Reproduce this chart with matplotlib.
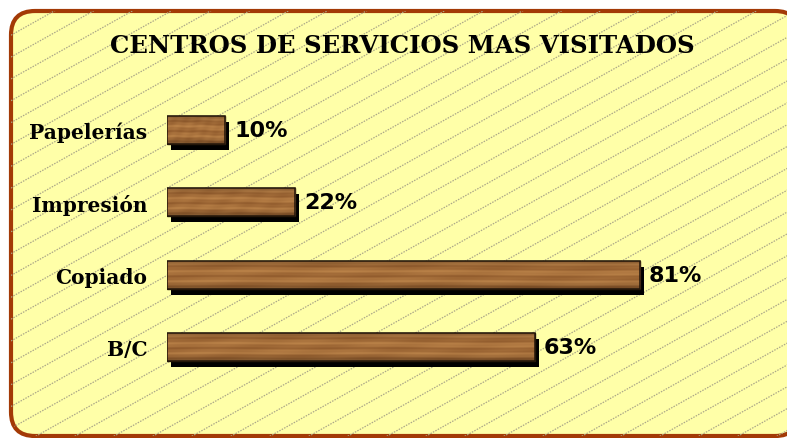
import numpy as np
import matplotlib
matplotlib.use('Agg')
import matplotlib.pyplot as plt
from matplotlib.patches import FancyBboxPatch, Rectangle
from matplotlib.transforms import ScaledTranslation

# data (bottom to top)
categories = ['B/C', 'Copiado', 'Impresión', 'Papelerías']
values = [63, 81, 22, 10]
title = 'CENTROS DE SERVICIOS MAS VISITADOS'

W, H = 787, 439
fig = plt.figure(figsize=(W / 100, H / 100), dpi=100)
fig.patch.set_facecolor('white')

# background panel in pixel coords
bg = fig.add_axes([0, 0, 1, 1])
bg.set_xlim(0, W)
bg.set_ylim(H, 0)
bg.axis('off')
frame = FancyBboxPatch((11, 12), 788, 425, boxstyle='round,pad=0,rounding_size=24',
                       facecolor='#ffffa8', edgecolor='#a33a06', linewidth=3.0, zorder=1)
bg.add_patch(frame)
# diagonal lines of the panel
slope = 0.56
for x0 in np.arange(-900, 800, 39):
    ln, = bg.plot([x0, x0 + 1000], [H + 20, H + 20 - 1000 * slope], color='#aca888',
                  lw=0.9, ls=(0, (1.2, 1.0)), zorder=2)
    ln.set_clip_path(frame)
bg.text(402, 46, title, ha='center', va='center', fontsize=17.6, fontweight='bold',
        family='DejaVu Serif', color='black', zorder=5)

# bar axes
ax = fig.add_axes([167 / W, 55 / H, 584 / W, 289 / H])
ax.patch.set_alpha(0)
ax.set_xlim(0, 100)
ax.set_ylim(-0.5, 3.5)
for s in ax.spines.values():
    s.set_visible(False)
ax.set_xticks([])

ypos = np.arange(len(categories))
bh = 0.39

shadow_tr = ax.transData + ScaledTranslation(4 / 100, -6 / 100, fig.dpi_scale_trans)
ax.barh(ypos, values, height=bh, color='black', transform=shadow_tr, zorder=2)
bars = ax.barh(ypos, values, height=bh, color='#a0683a', edgecolor='#2a1a08',
               linewidth=1.0, zorder=3)

# wood grain texture (soft horizontal streaks), clipped to each bar
rows = np.linspace(0, 1, 60)[:, None]
cols = np.linspace(0, 1, 600)[None, :]
grain = (0.5 + 0.18 * np.sin(rows * 19 + np.sin(cols * 5) * 0.8)
         + 0.10 * np.sin(rows * 53 + np.sin(cols * 13) * 0.6)
         + 0.05 * np.sin(cols * 31 + rows * 7))
g = (grain - grain.min()) / (grain.max() - grain.min())
edge = 1 - 0.30 * (np.abs(rows - 0.5) * 2) ** 4
dark = np.array([0.56, 0.35, 0.17])
light = np.array([0.74, 0.52, 0.29])
tex = (dark + g[..., None] * (light - dark)) * edge[..., None]
for b in bars:
    x, y, w, h = b.get_x(), b.get_y(), b.get_width(), b.get_height()
    im = ax.imshow(tex, extent=(x, x + w, y, y + h), aspect='auto', zorder=3.5,
                   interpolation='bilinear')
    im.set_clip_path(b)
    ax.add_patch(Rectangle((x, y), w, h, facecolor='none', edgecolor='#22150a',
                           linewidth=1.1, zorder=4))
ax.set_xlim(0, 100)
ax.set_ylim(-0.5, 3.5)

for yv, v in zip(ypos, values):
    ax.annotate(f'{v}%', (v, yv), xytext=(9 * 0.72, 0), textcoords='offset points',
                ha='left', va='center', fontsize=16, fontweight='bold',
                family='DejaVu Sans', color='black', zorder=6)

ax.set_yticks(ypos)
ax.set_yticklabels(categories, fontsize=14.5, fontweight='bold', family='DejaVu Serif')
ax.tick_params(axis='y', length=0, pad=14)

fig.savefig('out.png', dpi=100)
